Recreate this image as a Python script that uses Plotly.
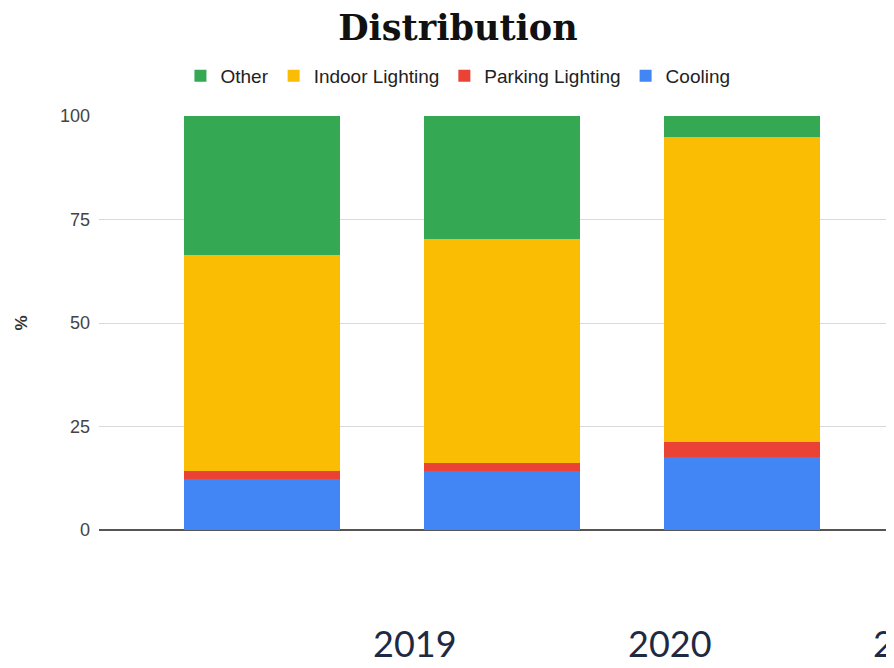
"""Stacked distribution bar chart."""

import plotly.graph_objects as go

# Data
bars = [0, 1, 2]
years = ["2019", "2020", "2021"]
series = ["Cooling", "Parking Lighting", "Indoor Lighting", "Other"]
cooling = [12.3, 14.3, 17.6]
parking = [2.0, 1.9, 3.7]
indoor = [52.1, 54.1, 73.6]
other = [33.6, 29.7, 5.1]
y_ticks = [0, 25, 50, 75, 100]

COLORS = {
    "Cooling": "#4285f4",
    "Parking Lighting": "#ea4335",
    "Indoor Lighting": "#fbbc04",
    "Other": "#34a853",
}

values = {
    "Cooling": cooling,
    "Parking Lighting": parking,
    "Indoor Lighting": indoor,
    "Other": other,
}

fig = go.Figure()
for name in series:
    fig.add_trace(
        go.Bar(
            x=bars,
            y=values[name],
            name=name,
            marker=dict(color=COLORS[name], line=dict(width=0)),
            width=0.65,
        )
    )

# year labels sit below the chart, offset from the bars
# (page body adds an 8px offset, margins compensate for it)
year_x = [0.3935, 0.7111, 1.0162]
for label, xpos in zip(years, year_x):
    fig.add_annotation(
        text=label,
        x=xpos,
        y=-0.33,
        xref="paper",
        yref="paper",
        xanchor="center",
        yanchor="bottom",
        showarrow=False,
        font=dict(family="Lato, sans-serif", size=36, color="#1e2a44"),
    )

fig.update_layout(
    barmode="stack",
    width=894,
    height=668,
    margin={"l": 91, "r": 0, "t": 108, "b": 146},
    paper_bgcolor="white",
    plot_bgcolor="white",
    title=dict(
        text="<b>Distribution</b>",
        x=0.447,
        xref="paper",
        xanchor="center",
        y=0.970,
        yanchor="middle",
        font=dict(family="DejaVu Serif, serif", size=35, color="#111111"),
    ),
    legend=dict(
        orientation="h",
        traceorder="reversed",
        x=0.447,
        xanchor="center",
        y=1.0966,
        yanchor="middle",
        font=dict(family="Liberation Sans, Arial, sans-serif", size=19, color="#222222"),
        itemclick=False,
    ),
    xaxis=dict(
        range=[-0.679, 2.667],
        showticklabels=False,
        showgrid=False,
        zeroline=False,
        showline=False,
        ticks="",
    ),
    yaxis=dict(
        range=[0, 100],
        tickvals=y_ticks,
        showgrid=True,
        gridcolor="#d9d9d9",
        gridwidth=1,
        zeroline=True,
        zerolinecolor="#555555",
        zerolinewidth=2,
        ticklabelstandoff=8,
        tickfont=dict(family="Liberation Sans, Arial, sans-serif", size=18, color="#444444"),
        title=dict(
            text="<b>%</b>",
            standoff=28,
            font=dict(family="Liberation Sans, Arial, sans-serif", size=17, color="#333333"),
        ),
    ),
    showlegend=True,
)

fig.write_html("out.html")
